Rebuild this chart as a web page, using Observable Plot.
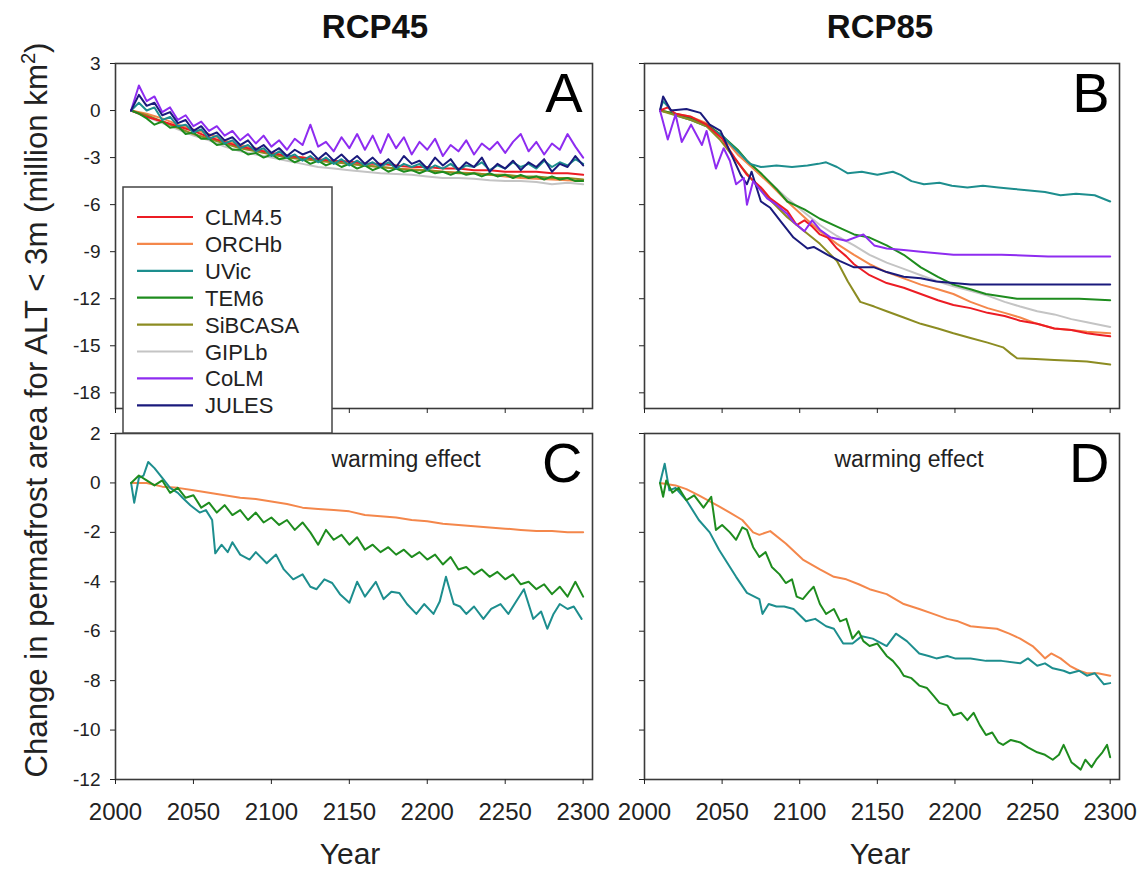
<!DOCTYPE html>
<html><head><meta charset="utf-8">
<script src="https://cdn.jsdelivr.net/npm/d3@7"></script>
<script src="https://cdn.jsdelivr.net/npm/@observablehq/plot@0.6"></script>
<style>
body{margin:0;background:#fff;}
#wrap{position:relative;width:1139px;height:873px;overflow:hidden;font-family:"Liberation Sans",Arial,sans-serif;background:#fff;}
.panel{position:absolute;}
#overlay{position:absolute;left:0;top:0;}
</style></head><body><div id="wrap"></div>
<script>
// ---------- categories / ticks ----------
const models = ["CLM4.5","ORCHb","UVic","TEM6","SiBCASA","GIPLb","CoLM","JULES"];
const modelColors = ["#ec1c24","#f4874b","#1d8e8e","#1e8c1e","#8c8c22","#c4c4c4","#8e2cf0","#1a1a7c"];
const xTicks = [2000, 2050, 2100, 2150, 2200, 2250, 2300];
const yTicksTop = [3, 0, -3, -6, -9, -12, -15, -18];
const yTicksBottom = [2, 0, -2, -4, -6, -8, -10, -12];
const years5 = d3.range(2010, 2301, 5);
const years10 = d3.range(2010, 2301, 10);

// ---------- Panel A (RCP45) ----------
const colmA = [0.0,1.6, 0.6,0.9, -0.1,0.2, -0.6,-0.3, -1.0,-0.7, -1.3,-1.0, -1.6,-1.3, -1.9,-1.5, -2.1,-1.6, -2.3,-1.9,
  -2.5,-1.8, -2.2,-0.9, -2.3,-2.0, -2.6,-1.7, -2.4,-1.5, -2.5,-1.6, -2.7,-1.5, -2.4,-1.7, -2.8,-2.0, -2.5,-1.8,
  -2.9,-2.2, -2.6,-1.9, -2.8,-2.1, -2.5,-2.0, -2.7,-2.0, -1.5,-2.6, -2.0,-2.8, -2.1,-2.5, -1.5,-2.3, -3.0];
const julesA = [0.0,1.0, 0.3,0.5, -0.3,-0.1, -0.8,-0.6, -1.3,-1.0, -1.6,-1.4, -1.9,-1.7, -2.2,-1.9, -2.5,-2.2, -2.7,-2.4,
  -2.9,-2.5, -2.8,-2.6, -3.1,-2.7, -3.2,-2.8, -3.3,-2.9, -3.4,-3.0, -3.5,-3.1, -3.6,-2.9, -3.4,-3.2, -3.7,-3.0,
  -3.5,-3.1, -3.8,-3.3, -3.6,-3.0, -3.9,-3.4, -3.7,-3.2, -3.8,-3.3, -3.6,-3.1, -3.9,-3.4, -3.6,-2.9, -3.5];
const uvicA = [0.0,0.5, 0.0,0.2, -0.6,-0.4, -1.0,-0.9, -1.4,-1.2, -1.8,-1.6, -2.1,-1.9, -2.4,-2.2, -2.6,-2.4, -2.9,-2.6,
  -3.0,-2.8, -3.2,-2.9, -3.3,-3.0, -3.4,-3.1, -3.5,-3.2, -3.5,-3.3, -3.6,-3.3, -3.7,-3.4, -3.6,-3.4, -3.8,-3.5,
  -3.7,-3.4, -3.8,-3.5, -3.6,-3.3, -3.8,-3.5, -3.7,-3.3, -3.6,-3.4, -3.7,-3.2, -3.6,-3.3, -3.5,-3.1, -3.4];
const tem6A = [0.0,-0.2, -0.5,-0.9, -0.7,-1.1, -1.0,-1.5, -1.4,-1.8, -1.8,-2.2, -2.1,-2.5, -2.5,-2.8, -2.7,-3.0, -2.8,-3.1,
  -3.0,-3.3, -3.1,-3.4, -3.2,-3.5, -3.3,-3.6, -3.4,-3.7, -3.5,-3.8, -3.6,-3.9, -3.7,-3.9, -3.8,-4.0, -3.8,-4.0,
  -3.9,-4.1, -3.9,-4.1, -4.0,-4.2, -4.0,-4.2, -4.1,-4.3, -4.1,-4.3, -4.2,-4.4, -4.2,-4.4, -4.3,-4.5, -4.5];
const giplbA = [0,-0.4,-0.8,-1.2,-1.6,-1.9,-2.3,-2.6,-2.8,-3.0, -3.2,-3.4,-3.6,-3.7,-3.8,-3.9,-4.0,-4.05,-4.1,-4.2,
  -4.3,-4.3,-4.35,-4.45,-4.5,-4.5,-4.55,-4.7,-4.6,-4.7];
const orchbA = [0,-0.2,-0.5,-0.9,-1.2,-1.5,-1.9,-2.2,-2.4,-2.7, -2.9,-3.0,-3.2,-3.3,-3.4,-3.5,-3.6,-3.7,-3.75,-3.8,
  -3.9,-3.95,-4.0,-4.1,-4.2,-4.3,-4.35,-4.4,-4.45,-4.5];
const clmA = [0,-0.4,-0.7,-1.0,-1.3,-1.7,-2.0,-2.3,-2.5,-2.7, -2.9,-3.0,-3.1,-3.2,-3.25,-3.4,-3.4,-3.5,-3.6,-3.6,
  -3.7,-3.7,-3.8,-3.8,-3.9,-3.9,-3.9,-4.0,-4.0,-4.1];
const sibA = [0,-0.3,-0.7,-1.1,-1.5,-1.8,-2.1,-2.4,-2.6,-2.8, -3.0,-3.1,-3.2,-3.3,-3.4,-3.5,-3.6,-3.7,-3.8,-3.8,
  -3.9,-4.0,-4.0,-4.1,-4.1,-4.2,-4.2,-4.3,-4.3,-4.4];

// ---------- Panel B (RCP85) ----------
const uvicB = [[2010,0],[2012,0.6],[2020,-0.3],[2030,-0.6],[2040,-1.0],[2050,-1.6],[2060,-2.6],[2068,-3.4],[2075,-3.6],[2085,-3.5],[2095,-3.6],[2105,-3.5],[2112,-3.4],[2117,-3.3],[2124,-3.6],[2131,-4.0],[2140,-3.9],[2150,-4.1],[2160,-3.9],[2165,-4.1],[2172,-4.5],[2180,-4.7],[2190,-4.6],[2198,-4.8],[2208,-4.9],[2218,-4.8],[2228,-4.9],[2238,-5.0],[2248,-5.1],[2258,-5.2],[2268,-5.4],[2278,-5.3],[2290,-5.4],[2300,-5.8]];
const colmB = [[2010,0],[2015,-1.85],[2020,-0.25],[2024,-2.0],[2030,-0.9],[2037,-2.2],[2040,-1.3],[2046,-3.7],[2051,-2.4],[2055,-3.2],[2059,-4.7],[2064,-4.3],[2066,-6.0],[2070,-4.5],[2079,-5.6],[2085,-6.0],[2092,-6.6],[2096,-7.1],[2103,-7.7],[2108,-7.0],[2113,-7.6],[2120,-8.1],[2130,-8.3],[2141,-7.9],[2148,-8.6],[2156,-8.8],[2167,-8.9],[2178,-9.0],[2199,-9.2],[2230,-9.2],[2260,-9.3],[2300,-9.3]];
const julesB = [[2010,0],[2012,0.9],[2017,0],[2027,0.1],[2036,-0.15],[2042,-0.9],[2049,-1.3],[2055,-2.6],[2062,-4.1],[2066,-4.7],[2069,-3.9],[2075,-5.8],[2081,-6.2],[2088,-7.1],[2096,-8.1],[2105,-8.8],[2109,-8.7],[2118,-9.2],[2126,-9.6],[2135,-10.0],[2148,-10.0],[2156,-10.3],[2167,-10.6],[2178,-10.7],[2188,-10.9],[2210,-11.1],[2250,-11.1],[2300,-11.1]];
const tem6B = [[2010,0],[2020,-0.2],[2030,-0.5],[2040,-0.9],[2050,-1.6],[2060,-2.5],[2066,-3.2],[2075,-4.0],[2085,-5.0],[2092,-5.8],[2103,-6.3],[2113,-6.9],[2124,-7.4],[2135,-7.9],[2145,-8.1],[2156,-8.6],[2167,-9.2],[2178,-10.0],[2189,-10.6],[2199,-11.1],[2210,-11.4],[2220,-11.7],[2240,-12.0],[2260,-12.0],[2280,-12.0],[2300,-12.1]];
const orchbB = [[2010,0],[2020,-0.2],[2030,-0.4],[2040,-0.8],[2049,-1.6],[2055,-2.2],[2060,-2.8],[2070,-3.7],[2081,-4.7],[2092,-5.8],[2103,-6.8],[2113,-7.7],[2124,-8.5],[2135,-9.2],[2145,-9.8],[2156,-10.3],[2167,-10.7],[2178,-11.1],[2189,-11.4],[2199,-11.7],[2210,-12.2],[2221,-12.6],[2232,-12.9],[2242,-13.2],[2253,-13.6],[2264,-13.9],[2275,-14.0],[2285,-14.1],[2300,-14.2]];
const giplbB = [[2010,0],[2020,-0.2],[2030,-0.5],[2040,-0.9],[2050,-1.6],[2060,-2.6],[2070,-3.6],[2081,-4.6],[2092,-5.6],[2103,-6.5],[2113,-7.3],[2124,-8.0],[2135,-8.6],[2145,-9.2],[2156,-9.7],[2167,-10.1],[2178,-10.5],[2189,-10.9],[2199,-11.2],[2210,-11.5],[2221,-11.8],[2232,-12.2],[2242,-12.5],[2253,-12.8],[2264,-13.0],[2275,-13.3],[2285,-13.5],[2300,-13.8]];
const clmB = [[2010,0],[2015,0.2],[2020,-0.2],[2030,-0.4],[2040,-0.9],[2050,-1.8],[2058,-3.0],[2066,-4.1],[2075,-4.9],[2081,-5.6],[2092,-6.4],[2098,-7.3],[2103,-7.0],[2108,-7.4],[2113,-7.9],[2118,-8.1],[2124,-8.8],[2130,-9.3],[2135,-9.8],[2145,-10.5],[2156,-11.0],[2167,-11.3],[2178,-11.7],[2189,-12.1],[2199,-12.4],[2210,-12.6],[2221,-12.9],[2232,-13.1],[2242,-13.4],[2253,-13.6],[2264,-13.9],[2275,-14.0],[2285,-14.2],[2292,-14.3],[2300,-14.4]];
const sibB = [[2010,0],[2020,-0.3],[2030,-0.6],[2040,-1.0],[2049,-1.9],[2060,-3.3],[2070,-4.5],[2081,-5.7],[2092,-6.8],[2103,-7.7],[2113,-8.5],[2124,-9.6],[2131,-10.9],[2139,-12.2],[2148,-12.5],[2156,-12.8],[2167,-13.2],[2178,-13.6],[2189,-13.9],[2199,-14.2],[2210,-14.5],[2221,-14.8],[2231,-15.1],[2236,-15.5],[2240,-15.8],[2252,-15.85],[2264,-15.9],[2275,-15.95],[2285,-16.0],[2300,-16.2]];

// ---------- Panel C (RCP45 warming effect) ----------
const orchbC = [0,0,-0.15,-0.2,-0.3,-0.4,-0.5,-0.6,-0.65,-0.75, -0.85,-1.0,-1.05,-1.1,-1.15,-1.3,-1.35,-1.4,-1.5,-1.55,
  -1.65,-1.7,-1.75,-1.8,-1.85,-1.9,-1.95,-1.95,-2.0,-2.0];
const uvicC = [[2010,0],[2012,-0.8],[2015,0.2],[2018,0.3],[2021,0.85],[2025,0.6],[2030,0.2],[2035,-0.2],[2040,-0.4],[2043,-0.6],[2048,-0.9],[2054,-1.2],[2058,-1.1],[2062,-1.5],[2064,-2.85],[2068,-2.5],[2072,-2.8],[2075,-2.4],[2080,-2.9],[2086,-3.1],[2090,-2.8],[2097,-3.25],[2103,-2.9],[2108,-3.5],[2114,-3.9],[2120,-3.7],[2125,-4.2],[2129,-4.3],[2134,-3.9],[2139,-4.05],[2144,-4.5],[2150,-4.85],[2155,-4.0],[2160,-4.6],[2167,-4.0],[2172,-4.7],[2177,-4.4],[2182,-4.45],[2187,-4.9],[2193,-5.3],[2198,-4.9],[2204,-5.3],[2208,-4.8],[2212,-3.8],[2217,-4.9],[2221,-5.0],[2225,-5.3],[2230,-5.0],[2236,-5.5],[2241,-5.1],[2247,-4.9],[2252,-5.3],[2257,-4.8],[2262,-4.3],[2268,-5.5],[2273,-5.2],[2277,-5.9],[2281,-5.3],[2285,-4.9],[2290,-5.1],[2294,-5.0],[2299,-5.5]];
const tem6C = [0,0.3, 0.1,-0.1, 0.1,-0.4, -0.2,-0.6, -0.5,-1.0, -0.8,-1.2, -0.9,-1.3, -1.1,-1.5, -1.2,-1.6, -1.4,-1.7,
  -1.5,-1.9, -1.6,-2.0, -2.5,-1.9, -2.3,-2.1, -2.5,-2.2, -2.7,-2.5, -2.8,-2.6, -2.9,-2.7, -3.0,-2.8, -3.1,-2.9,
  -3.3,-3.0, -3.5,-3.4, -3.7,-3.5, -3.8,-3.6, -3.9,-3.7, -4.1,-4.0, -4.3,-4.1, -4.5,-4.2, -4.6,-4.0, -4.6];

// ---------- Panel D (RCP85 warming effect) ----------
const orchbD = [[2010,0],[2020,-0.1],[2027,-0.25],[2035,-0.5],[2048,-0.95],[2055,-1.2],[2063,-1.5],[2070,-2.0],[2074,-2.1],[2081,-1.95],[2091,-2.45],[2102,-3.1],[2113,-3.5],[2122,-3.8],[2130,-3.9],[2138,-4.1],[2145,-4.3],[2156,-4.5],[2167,-4.9],[2172,-5.0],[2177,-5.1],[2186,-5.3],[2195,-5.5],[2202,-5.6],[2210,-5.8],[2218,-5.85],[2227,-5.9],[2235,-6.1],[2242,-6.3],[2250,-6.6],[2255,-6.9],[2258,-7.1],[2262,-6.9],[2268,-7.1],[2274,-7.4],[2280,-7.6],[2285,-7.7],[2292,-7.7],[2300,-7.8]];
const uvicD = [[2010,0],[2013,0.78],[2016,-0.3],[2020,-0.2],[2027,-0.7],[2035,-1.5],[2042,-2.0],[2048,-2.7],[2054,-3.3],[2059,-3.8],[2066,-4.45],[2074,-4.7],[2076,-5.3],[2080,-4.9],[2085,-5.0],[2090,-5.0],[2096,-5.1],[2104,-5.6],[2110,-5.5],[2117,-5.8],[2122,-5.9],[2128,-6.5],[2134,-6.5],[2140,-6.2],[2147,-6.3],[2153,-6.5],[2156,-6.6],[2162,-6.1],[2169,-6.4],[2177,-6.9],[2183,-7.0],[2188,-7.1],[2195,-7.0],[2200,-7.1],[2210,-7.1],[2220,-7.2],[2230,-7.2],[2242,-7.3],[2247,-7.1],[2253,-7.4],[2258,-7.3],[2263,-7.5],[2270,-7.6],[2274,-7.7],[2280,-7.6],[2285,-7.8],[2290,-7.7],[2296,-8.15],[2300,-8.1]];
const tem6D = [[2010,0],[2012,-0.56],[2014,0.1],[2018,-0.4],[2022,-0.2],[2027,-0.7],[2032,-0.5],[2038,-1.0],[2043,-0.56],[2046,-1.9],[2050,-1.7],[2055,-2.0],[2059,-2.3],[2063,-1.8],[2066,-1.9],[2070,-2.6],[2074,-3.0],[2078,-2.8],[2082,-3.4],[2087,-3.7],[2091,-4.05],[2095,-3.9],[2098,-4.6],[2102,-4.7],[2106,-4.4],[2109,-4.2],[2113,-4.9],[2117,-5.3],[2122,-5.1],[2126,-5.6],[2130,-5.5],[2134,-6.3],[2138,-6.0],[2141,-6.4],[2145,-6.6],[2150,-6.5],[2156,-7.0],[2160,-7.2],[2164,-7.5],[2167,-7.8],[2172,-7.9],[2177,-8.2],[2182,-8.3],[2186,-8.6],[2190,-8.9],[2195,-9.0],[2199,-9.4],[2204,-9.3],[2208,-9.6],[2212,-9.3],[2216,-9.8],[2220,-10.2],[2224,-10.1],[2228,-10.5],[2231,-10.6],[2236,-10.4],[2242,-10.5],[2247,-10.7],[2253,-10.9],[2258,-11.0],[2263,-11.2],[2267,-11.0],[2270,-10.6],[2275,-11.3],[2281,-11.6],[2284,-11.2],[2288,-11.5],[2291,-11.2],[2295,-10.9],[2298,-10.6],[2300,-11.1]];

// ---------- helpers ----------
const colorOf = Object.fromEntries(models.map((m, i) => [m, modelColors[i]]));
const onGrid = (years, vals) => years.map((y, i) => [y, vals[i]]).filter(d => d[1] !== undefined);
const FONT = "'Liberation Sans', Arial, sans-serif";

function makePanel(cfg) {
  const marks = cfg.series.map(s => Plot.line(s.data, {
    x: d => d[0], y: d => d[1], stroke: colorOf[s.model], strokeWidth: 2, strokeLinejoin: "round"
  }));
  marks.push(Plot.frame({stroke: "#3a3a3a", strokeWidth: 1.6}));
  marks.push(Plot.axisY({ticks: cfg.yTicks, tickSize: 5, tickPadding: 10,
    tickFormat: cfg.yLabels ? d => String(d) : () => "", fontSize: 19, label: null}));
  marks.push(Plot.axisX({ticks: xTicks, tickSize: 5, tickPadding: 18,
    tickFormat: cfg.xLabels ? d => String(d) : () => "", fontSize: 24, label: null}));
  marks.push(Plot.text([cfg.letter], {frameAnchor: "top-right", textAnchor: "end", lineAnchor: "top",
    dx: -10, dy: 9, fontSize: 56, fill: "#000"}));
  if (cfg.note) marks.push(Plot.text([cfg.note], {frameAnchor: "top", lineAnchor: "top",
    dx: cfg.noteDx, dy: 17, fontSize: 23, fill: "#222"}));
  const svg = Plot.plot({
    width: cfg.width, height: cfg.height,
    marginLeft: cfg.ml, marginRight: cfg.mr, marginTop: cfg.mt, marginBottom: cfg.mb,
    x: {domain: [2000, 2306]},
    y: {domain: cfg.yDomain},
    style: {fontFamily: FONT, color: "#222", background: "transparent", overflow: "visible"},
    marks
  });
  const div = document.createElement("div");
  div.className = "panel";
  div.style.left = cfg.left + "px";
  div.style.top = cfg.top + "px";
  div.style.width = cfg.width + "px";
  div.style.height = cfg.height + "px";
  div.appendChild(svg);
  document.getElementById("wrap").appendChild(div);
}

makePanel({
  left: 0, top: 0, width: 600, height: 420, ml: 115, mr: 8, mt: 63, mb: 12,
  yDomain: [-19, 3], yTicks: yTicksTop, yLabels: true, xLabels: false, letter: "A",
  series: [
    {model: "GIPLb", data: onGrid(years10, giplbA)},
    {model: "ORCHb", data: onGrid(years10, orchbA)},
    {model: "SiBCASA", data: onGrid(years10, sibA)},
    {model: "CLM4.5", data: onGrid(years10, clmA)},
    {model: "TEM6", data: onGrid(years5, tem6A)},
    {model: "UVic", data: onGrid(years5, uvicA)},
    {model: "CoLM", data: onGrid(years5, colmA)},
    {model: "JULES", data: onGrid(years5, julesA)}
  ]
});
makePanel({
  left: 600, top: 0, width: 539, height: 420, ml: 44, mr: 20, mt: 63, mb: 12,
  yDomain: [-19, 3], yTicks: yTicksTop, yLabels: false, xLabels: false, letter: "B",
  series: [
    {model: "GIPLb", data: giplbB},
    {model: "ORCHb", data: orchbB},
    {model: "TEM6", data: tem6B},
    {model: "UVic", data: uvicB},
    {model: "SiBCASA", data: sibB},
    {model: "CLM4.5", data: clmB},
    {model: "JULES", data: julesB},
    {model: "CoLM", data: colmB}
  ]
});
makePanel({
  left: 0, top: 420, width: 600, height: 453, ml: 115, mr: 8, mt: 13, mb: 94,
  yDomain: [-12, 2], yTicks: yTicksBottom, yLabels: true, xLabels: true, letter: "C",
  note: "warming effect", noteDx: 52,
  series: [
    {model: "ORCHb", data: onGrid(years10, orchbC)},
    {model: "UVic", data: uvicC},
    {model: "TEM6", data: onGrid(years5, tem6C)}
  ]
});
makePanel({
  left: 600, top: 420, width: 539, height: 453, ml: 44, mr: 20, mt: 13, mb: 94,
  yDomain: [-12, 2], yTicks: yTicksBottom, yLabels: false, xLabels: true, letter: "D",
  note: "warming effect", noteDx: 27,
  series: [
    {model: "ORCHb", data: orchbD},
    {model: "UVic", data: uvicD},
    {model: "TEM6", data: tem6D}
  ]
});

// ---------- overlay: titles, axis titles, legend ----------
const NS = "http://www.w3.org/2000/svg";
const ov = d3.select("#wrap").append("svg").attr("id", "overlay")
  .attr("width", 1139).attr("height", 873).attr("xmlns", NS)
  .style("font-family", FONT);

ov.append("text").attr("x", 375).attr("y", 38).attr("text-anchor", "middle")
  .attr("font-size", 33).attr("font-weight", "bold").attr("fill", "#111").text("RCP45");
ov.append("text").attr("x", 880).attr("y", 38).attr("text-anchor", "middle")
  .attr("font-size", 33).attr("font-weight", "bold").attr("fill", "#111").text("RCP85");
ov.append("text").attr("x", 350).attr("y", 864).attr("text-anchor", "middle")
  .attr("font-size", 30).attr("fill", "#222").text("Year");
ov.append("text").attr("x", 880).attr("y", 864).attr("text-anchor", "middle")
  .attr("font-size", 30).attr("fill", "#222").text("Year");

const yt = ov.append("text").attr("transform", "translate(47,410) rotate(-90)")
  .attr("text-anchor", "middle").attr("font-size", 31).attr("fill", "#222")
  .attr("textLength", 735).attr("lengthAdjust", "spacingAndGlyphs");
yt.append("tspan").text("Change in permafrost area for ALT < 3m (million km");
yt.append("tspan").attr("font-size", 20).attr("dy", -12).text("2");
yt.append("tspan").attr("dy", 12).text(")");

// legend
const lg = ov.append("g");
lg.append("rect").attr("x", 123).attr("y", 187).attr("width", 209).attr("height", 246)
  .attr("fill", "#fff").attr("stroke", "#444").attr("stroke-width", 1.5);
models.forEach((m, i) => {
  const cy = 217 + i * 26.9;
  lg.append("line").attr("x1", 137).attr("x2", 193).attr("y1", cy).attr("y2", cy)
    .attr("stroke", colorOf[m]).attr("stroke-width", 2.2);
  lg.append("text").attr("x", 205).attr("y", cy + 8).attr("font-size", 22).attr("fill", "#222").text(m);
});
</script>
</body></html>
